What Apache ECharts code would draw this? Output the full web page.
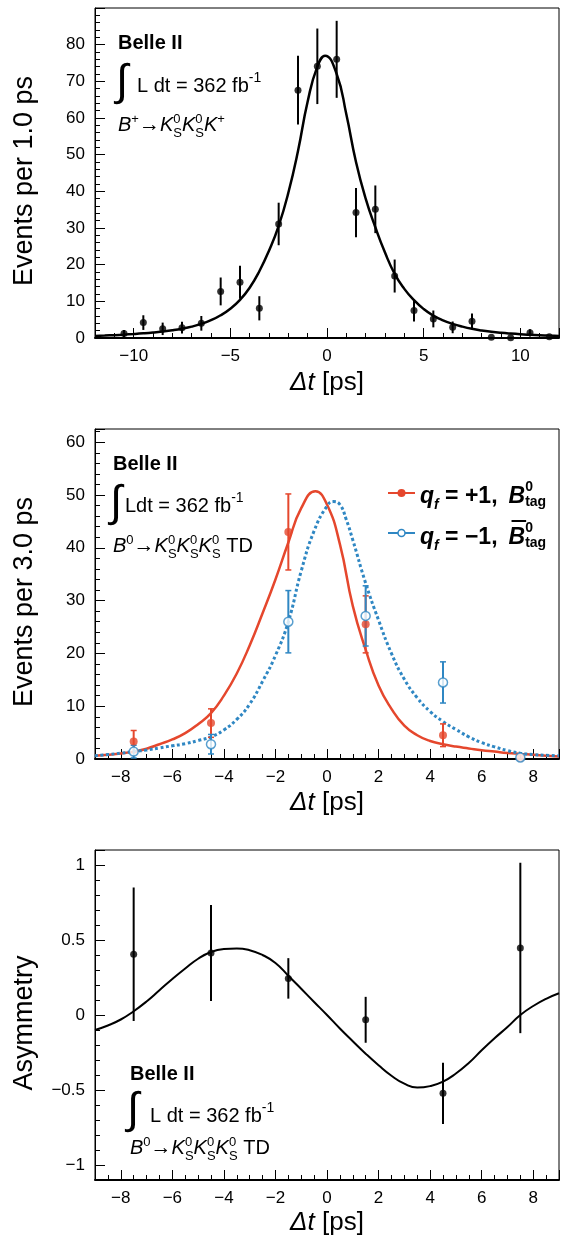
<!DOCTYPE html>
<html><head><meta charset="utf-8">
<script src="https://cdn.jsdelivr.net/npm/echarts@6/dist/echarts.min.js"></script>
<style>html,body{margin:0;padding:0;background:#fff}#c{width:561px;height:1238px}</style>
</head><body><div id="c"></div>
<script>
// ---------------- data ----------------
// Panel 1: B+ -> KS KS K+, events per 1.0 ps
const t1 = [-10.5,-9.5,-8.5,-7.5,-6.5,-5.5,-4.5,-3.5,-2.5,-1.5,-0.5,0.5,1.5,2.5,3.5,4.5,5.5,6.5,7.5,8.5,9.5,10.5,11.5];
const n1 = [1.2,4.2,2.5,2.8,4.0,12.7,15.2,8.1,31.1,67.6,74.1,76.0,34.2,35.1,16.9,7.5,5.2,2.9,4.6,0.2,0.1,1.4,0.35];
const e1 = [1.0,2.0,1.7,1.6,2.0,3.8,4.5,3.3,5.8,9.4,10.3,10.5,6.7,6.5,4.5,3.0,2.3,1.6,2.1,0,0,1.0,0];
const fitX1 = [-12,-11.5,-11,-10.5,-10,-9.5,-9,-8.5,-8,-7.5,-7,-6.5,-6,-5.5,-5,-4.5,-4,-3.5,-3,-2.5,-2,-1.5,-1,-0.5,-0.1,0.5,1,1.5,2,2.5,3,3.5,4,4.5,5,5.5,6,6.5,7,7.5,8,8.5,9,9.5,10,10.5,11,11.5,12];
const fitY1 = [0.55,0.66,0.78,0.92,1.08,1.27,1.5,1.78,2.12,2.55,3.1,3.85,4.85,6.2,8.0,10.4,13.7,18.2,23.8,30.6,39.6,51.0,64.5,74.0,77.0,72.0,61.0,48.0,38.0,30.2,23.3,17.5,13.4,10.3,7.9,6.1,4.8,3.85,3.1,2.5,2.05,1.7,1.42,1.2,1.02,0.88,0.76,0.65,0.55];

// Panel 2: B0 -> KS KS KS, events per 3.0 ps
const t2 = [-7.5,-4.5,-1.5,1.5,4.5,7.5];
const nPlus = [3.3,6.8,43.0,25.5,4.5,0.2];
const ePlus = [2.1,2.7,7.2,5.4,2.15,0];
const nMinus = [1.4,2.8,26.0,27.1,14.5,0.3];
const eMinus = [1.2,1.85,5.9,5.7,3.9,0];
const fitX2p = [-9,-8.5,-8,-7.5,-7,-6.5,-6,-5.5,-5,-4.5,-4,-3.5,-3,-2.5,-2,-1.5,-1,-0.45,0,0.5,1,1.5,2,2.5,3,3.5,4,4.5,5,5.5,6,6.5,7,7.5,8,8.5,9];
const fitY2p = [0.6,0.8,1.05,1.4,1.95,2.8,3.7,4.9,6.6,8.7,12.0,16.2,21.5,27.6,34.0,41.0,47.5,50.7,48.2,40.7,29.0,20.7,13.9,9.5,6.3,4.5,3.4,2.8,2.35,2.0,1.65,1.4,1.15,0.97,0.8,0.62,0.46];
const fitX2m = [-9,-8.5,-8,-7.5,-7,-6.5,-6,-5.5,-5,-4.5,-4,-3.5,-3,-2.5,-2,-1.5,-1,-0.5,0,0.25,0.5,0.75,1,1.5,2,2.5,3,3.5,4,4.5,5,5.5,6,6.5,7,7.5,8,8.5,9];
const fitY2m = [0.6,0.85,1.1,1.4,1.7,2.1,2.5,2.9,3.5,4.2,5.5,7.5,10.4,14.7,19.6,26.0,35.6,43.2,47.9,48.75,48.2,45.3,41.5,33.3,26.3,20.0,15.1,11.6,9.0,7.1,5.6,4.2,3.1,2.3,1.6,1.1,0.85,0.7,0.6];

// Panel 3: asymmetry
const t3 = [-7.5,-4.5,-1.5,1.5,4.5,7.5];
const asym = [0.405,0.413,0.244,-0.032,-0.522,0.447];
const eAsym = [0.445,0.32,0.135,0.153,0.204,0.568];
const fitX3 = [-9,-8.5,-8,-7.5,-7,-6.5,-6,-5.5,-5,-4.5,-4,-3.5,-3,-2.5,-2,-1.5,-1,-0.5,0,0.5,1,1.5,2,2.5,3,3.5,4,4.5,5,5.5,6,6.5,7,7.5,8,8.5,9];
const fitY3 = [-0.10,-0.07,-0.03,0.025,0.09,0.165,0.24,0.31,0.375,0.42,0.44,0.444,0.432,0.40,0.347,0.262,0.175,0.087,0.0,-0.09,-0.175,-0.258,-0.335,-0.405,-0.458,-0.484,-0.474,-0.444,-0.39,-0.32,-0.235,-0.155,-0.08,0.0,0.06,0.108,0.145];

// tick labels
const xTicks1 = [-10,-5,0,5,10];
const yTicks1 = [0,10,20,30,40,50,60,70,80];
const xTicks23 = [-8,-6,-4,-2,0,2,4,6,8];
const yTicks2 = [0,10,20,30,40,50,60];
const yTicks3 = [-1,-0.5,0,0.5,1];

// ---------------- style ----------------
const FONT = '"Liberation Sans", Arial, Helvetica, sans-serif';
const RED = '#e5472d';
const BLUE = '#2f87c3';

function fmtNum(v){ return (v < 0 ? '\u2212' : '') + String(Math.abs(v)); }
function labelFrom(arr){
  return v => { const a = arr.find(a => Math.abs(a - v) < 1e-6); return a === undefined ? '' : fmtNum(a); };
}
function xAxisDef(gi, min, max, split, minorSplit, ticks){
  return {type:'value', gridIndex:gi, min, max, splitNumber:split,
    axisLine:{show:true, onZero:false, lineStyle:{color:'#000', width:2}},
    axisTick:{show:true, inside:true, length:10, lineStyle:{color:'#000', width:1}},
    minorTick:{show:true, splitNumber:minorSplit, length:5, lineStyle:{color:'#000', width:1}},
    splitLine:{show:false}, minorSplitLine:{show:false},
    axisLabel:{show:true, formatter:labelFrom(ticks), color:'#000', fontSize:17, fontFamily:FONT, margin:10, hideOverlap:false}
  };
}
function yAxisDef(gi, min, max, opt, minorSplit, ticks){
  return Object.assign({type:'value', gridIndex:gi, min, max,
    axisLine:{show:true, onZero:false, lineStyle:{color:'#000', width:1}},
    axisTick:{show:true, inside:true, length:10, lineStyle:{color:'#000', width:1}},
    minorTick:{show:true, splitNumber:minorSplit, length:5, lineStyle:{color:'#000', width:1}},
    splitLine:{show:false}, minorSplitLine:{show:false},
    axisLabel:{show:true, formatter:labelFrom(ticks), color:'#000', fontSize:17, fontFamily:FONT, margin:10, hideOverlap:false}
  }, opt);
}
function errSeries(gi, xs, ys, es, color, cap, width){
  return {type:'custom', xAxisIndex:gi, yAxisIndex:gi, z:3,
    data: xs.map((x,i)=>[x, ys[i]-es[i], ys[i]+es[i]]).filter((d,i)=>es[i]>0),
    encode:{x:0, y:[1,2]},
    renderItem:(params, api)=>{
      const x = api.value(0);
      const a = api.coord([x, api.value(1)]);
      const b = api.coord([x, api.value(2)]);
      const ch = [{type:'line', shape:{x1:a[0], y1:a[1], x2:b[0], y2:b[1]}, style:{stroke:color, lineWidth:width}}];
      if (cap){
        ch.push({type:'line', shape:{x1:a[0]-cap, y1:a[1], x2:a[0]+cap, y2:a[1]}, style:{stroke:color, lineWidth:1.5}});
        ch.push({type:'line', shape:{x1:b[0]-cap, y1:b[1], x2:b[0]+cap, y2:b[1]}, style:{stroke:color, lineWidth:1.5}});
      }
      return {type:'group', children:ch};
    }
  };
}
function lineSeries(gi, xs, ys, color, width, type){
  return {type:'line', xAxisIndex:gi, yAxisIndex:gi, data: xs.map((x,i)=>[x, ys[i]]),
    smooth:0.5, showSymbol:false, symbol:'none', z:2,
    lineStyle:{color, width, type: type||'solid', cap:'butt'}};
}
function pointSeries(gi, xs, ys, color, size, open){
  return {type:'scatter', xAxisIndex:gi, yAxisIndex:gi, data: xs.map((x,i)=>[x, ys[i]]),
    symbol:'circle', symbolSize:size, z:4,
    itemStyle: open ? {color:'#fff', borderColor:color, borderWidth:1.5} : {color}};
}

// ---------------- text helpers ----------------
const mctx = document.createElement('canvas').getContext('2d');
function fnt(p){ return (p.it?'italic ':'') + (p.b?'bold ':'') + p.size + 'px ' + (p.family || FONT); }
function tw(t, p){ mctx.font = fnt(p); return mctx.measureText(t).width; }
function txt(x, base, t, p){
  return {type:'text', x:x, y: base - 0.3465*p.size, silent:true, z:100,
    style:{text:t, font:fnt(p), fill:p.color||'#000', align:'left', verticalAlign:'middle'}};
}
function runs(x, base, pieces, out){
  let cx = x;
  for (const p of pieces){
    if (p.gap != null){ cx += p.gap; continue; }
    if (p.stack){
      let w = 0;
      if (p.sup){ const ps = Object.assign({}, p, p.supStyle||{}); out.push(txt(cx, base + p.supDy, p.sup, ps)); w = Math.max(w, tw(p.sup, ps)); }
      if (p.sub){ const ps = Object.assign({}, p, p.subStyle||{}); out.push(txt(cx, base + p.subDy, p.sub, ps)); w = Math.max(w, tw(p.sub, ps)); }
      cx += w; continue;
    }
    const w = tw(p.t, p);
    out.push(txt(cx, base + (p.dy||0), p.t, p));
    if (p.over){
      out.push({type:'line', silent:true, z:100, shape:{x1:cx+3, y1:base-p.over, x2:cx+w+1, y2:base-p.over}, style:{stroke:'#000', lineWidth:2}});
    }
    cx += w + (p.after||0);
  }
  return cx;
}
function width(pieces){ let s=0; for(const p of pieces){ if(p.gap!=null) s+=p.gap; else if(!p.stack) s+=tw(p.t,p);} return s; }

const G = [];
// y-axis titles
function yTitle(cx, cy, text){
  G.push({type:'text', x:cx, y:cy, rotation:Math.PI/2, silent:true,
    style:{text, font:'27px '+FONT, fill:'#000', align:'center', verticalAlign:'middle'}});
}
yTitle(25, 181, 'Events per 1.0 ps');
yTitle(25, 602, 'Events per 3.0 ps');
yTitle(25, 1023, 'Asymmetry');
// x-axis titles
function xTitle(base){
  const pcs = [{t:'\u0394t', it:true, size:26}, {t:' [ps]', size:26}];
  runs(327 - width(pcs)/2, base, pcs, G);
}
xTitle(392); xTitle(812); xTitle(1232);

// annotations
const sup0 = {stack:true, sup:'0', sub:'S', size:13, supDy:-8, subDy:6};
const ARROW = {t:'\u2192', size:21, dy:0};
function intSign(x, cy){
  G.push({type:'text', x, y:cy, silent:true, style:{text:'\u222B', font:'44px '+FONT, fill:'#000', align:'left', verticalAlign:'middle'}});
}
// panel 1
runs(118, 50, [{t:'Belle II', b:true, size:20}], G);
intSign(116, 83);
runs(137, 93, [{t:'L dt = 362 fb', size:20}, {t:'-1', size:14, dy:-10}], G);
runs(118, 132, [{t:'B', it:true, size:20}, {t:'+', size:13, dy:-8}, ARROW,
  {t:'K', it:true, size:20}, sup0, {t:'K', it:true, size:20}, sup0, {t:'K', it:true, size:20}, {t:'+', size:13, dy:-8}], G);
// panel 2
runs(113, 471, [{t:'Belle II', b:true, size:20}], G);
intSign(110, 504);
runs(125, 513, [{t:'Ldt = 362 fb', size:20}, {t:'-1', size:14, dy:-10}], G);
runs(113, 553, [{t:'B', it:true, size:20}, {t:'0', size:13, dy:-8}, ARROW,
  {t:'K', it:true, size:20}, sup0, {t:'K', it:true, size:20}, sup0, {t:'K', it:true, size:20}, sup0, {t:' TD', size:20}], G);
// panel 3
runs(130, 1081, [{t:'Belle II', b:true, size:20}], G);
intSign(127, 1111);
runs(150, 1123, [{t:'L dt = 362 fb', size:20}, {t:'-1', size:14, dy:-10}], G);
runs(130, 1155, [{t:'B', it:true, size:20}, {t:'0', size:13, dy:-8}, ARROW,
  {t:'K', it:true, size:20}, sup0, {t:'K', it:true, size:20}, sup0, {t:'K', it:true, size:20}, sup0, {t:' TD', size:20}], G);

// legend panel 2
function legendRow(yLine, base, color, open, sign, bar){
  G.push({type:'line', silent:true, z:100, shape:{x1:388, y1:yLine, x2:415, y2:yLine}, style:{stroke:color, lineWidth:2}});
  G.push({type:'circle', silent:true, z:101, shape:{cx:401.5, cy:yLine, r:open?3.5:4},
    style: open ? {fill:'#fff', stroke:color, lineWidth:1.5} : {fill:color}});
  const pcs = [{t:'q', b:true, it:true, size:23}, {t:'f', b:true, it:true, size:14, dy:5},
    {t:' = ' + sign + '1,', b:true, size:23}, {gap:11},
    Object.assign({t:'B', b:true, it:true, size:23}, bar ? {over:25} : {}),
    {stack:true, sup:'0', sub:'tag', b:true, size:14, supDy:-13, subDy:2}];
  runs(420, base, pcs, G);
}
legendRow(493, 505, RED, false, '+', false);
legendRow(533, 546, BLUE, true, '\u2212', true);

// ---------------- chart ----------------
const chart = echarts.init(document.getElementById('c'), null, {renderer:'canvas'});
chart.setOption({
  animation:false,
  backgroundColor:'#fff',
  grid:[
    {left:95, top:8, width:464, height:330, show:true, borderColor:'#000', borderWidth:1, containLabel:false, outerBoundsMode:'none'},
    {left:95, top:429, width:464, height:330, show:true, borderColor:'#000', borderWidth:1, containLabel:false, outerBoundsMode:'none'},
    {left:95, top:850, width:464, height:330, show:true, borderColor:'#000', borderWidth:1, containLabel:false, outerBoundsMode:'none'}
  ],
  xAxis:[
    xAxisDef(0, -12, 12, 5, 5, xTicks1),
    xAxisDef(1, -9, 9, 9, 4, xTicks23),
    xAxisDef(2, -9, 9, 9, 4, xTicks23)
  ],
  yAxis:[
    yAxisDef(0, 0, 90, {interval:10}, 5, yTicks1),
    yAxisDef(1, 0, 62.5, {interval:10}, 5, yTicks2),
    yAxisDef(2, -1.1, 1.1, {splitNumber:5}, 5, yTicks3)
  ],
  series:[
    lineSeries(0, fitX1, fitY1, '#000', 2.5),
    errSeries(0, t1, n1, e1, '#000', 0, 2),
    pointSeries(0, t1, n1, '#000', 7),

    lineSeries(1, fitX2p, fitY2p, RED, 2.5),
    lineSeries(1, fitX2m, fitY2m, BLUE, 3, [3,2.5]),
    errSeries(1, t2, nPlus, ePlus, RED, 3, 2),
    errSeries(1, t2, nMinus, eMinus, BLUE, 3, 2),
    pointSeries(1, t2, nPlus, RED, 8),
    pointSeries(1, t2, nMinus, BLUE, 9, true),

    lineSeries(2, fitX3, fitY3, '#000', 2),
    errSeries(2, t3, asym, eAsym, '#000', 0, 2),
    pointSeries(2, t3, asym, '#000', 7)
  ],
  graphic: G
});
</script>
</body></html>
